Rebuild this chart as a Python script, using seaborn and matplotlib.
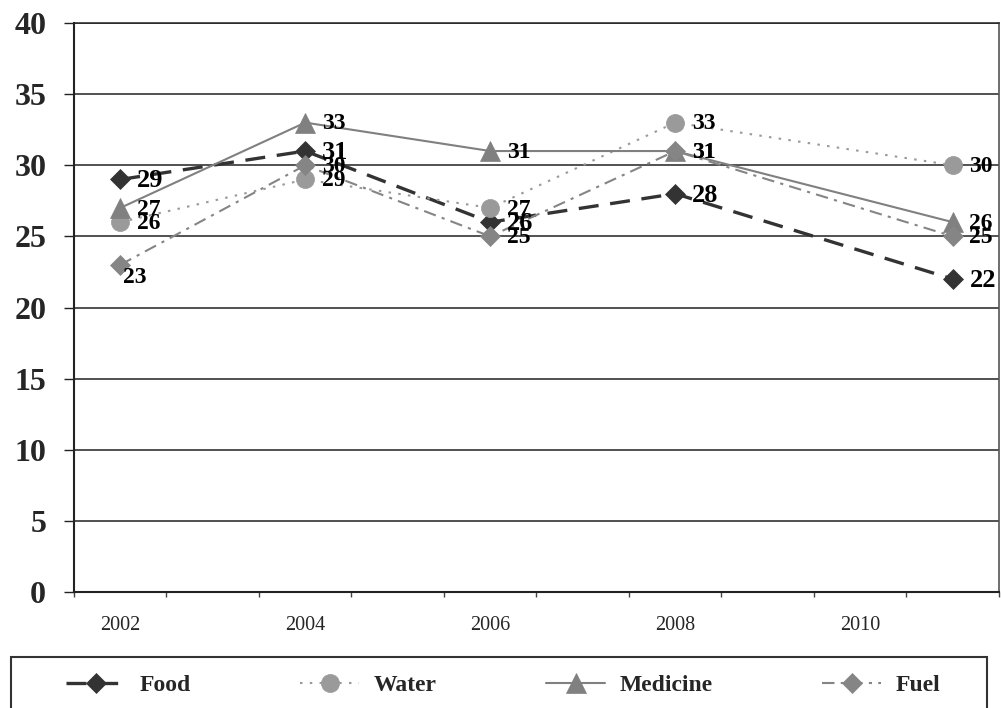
import matplotlib
matplotlib.use("Agg")
import matplotlib.pyplot as plt
import seaborn as sns
from matplotlib.patches import Rectangle
from matplotlib.ticker import MultipleLocator, FixedLocator

# data
years = [2002, 2004, 2006, 2008, 2011]
food = [29, 31, 26, 28, 22]
water = [26, 29, 27, 33, 30]
medicine = [27, 33, 31, 31, 26]
fuel = [23, 30, 25, 31, 25]
year_labels = [2002, 2004, 2006, 2008, 2010]

sns.set_theme(style="white")
plt.rcParams["font.family"] = ["Liberation Serif", "DejaVu Serif"]

fig = plt.figure(figsize=(10.01, 7.08), dpi=100)
ax = fig.add_axes([0.0739, 0.1638, 0.9241, 0.8037])

series = [
    ("Food", food, "#333333", "D", 10, (0, (6, 3.5)), 2.4, 19),
    ("Water", water, "#9a9a9a", "o", 13, (0, (1.2, 3.5)), 1.5, 17),
    ("Medicine", medicine, "#808080", "^", 14, "-", 1.5, 17),
    ("Fuel", fuel, "#858585", "D", 10, (0, (6, 3, 1.5, 3)), 1.5, 17),
]

for name, vals, col, mk, ms, ls, lw, fs in series:
    sns.lineplot(x=years, y=vals, ax=ax, color=col, marker=mk, markersize=ms,
                 markeredgecolor=col, markeredgewidth=0.5, linestyle=ls, lw=lw,
                 label=name, legend=False, zorder=3)
    for i, (x, y) in enumerate(zip(years, vals)):
        dx, dy = 12, -1
        if name == "Fuel" and i == 0:
            dx, dy = 2, -9
        ax.annotate(str(y), (x, y), xytext=(dx, dy), textcoords="offset points",
                    ha="left", va="center", fontsize=fs, fontweight="bold",
                    color="black", annotation_clip=False, zorder=4)

ax.set_xlim(2001.5, 2011.5)
ax.set_ylim(0, 40)
ax.yaxis.set_major_locator(MultipleLocator(5))
ax.xaxis.set_major_locator(FixedLocator(year_labels))
ax.xaxis.set_minor_locator(MultipleLocator(1, offset=0.5))
ax.set_xticklabels([str(y) for y in year_labels])
ax.grid(axis="y", color="#222222", lw=1.1)
ax.set_axisbelow(True)

ax.tick_params(axis="y", direction="out", length=7, width=1, color="#222222",
               pad=13, labelsize=23, left=True)
for lab in ax.get_yticklabels():
    lab.set_fontweight("bold")
ax.tick_params(axis="x", which="major", length=0, pad=17, labelsize=14.5)
ax.tick_params(axis="x", which="minor", direction="out", length=3.5, width=1,
               color="#444444", bottom=True)

for side in ["left", "bottom"]:
    ax.spines[side].set_color("#222222")
    ax.spines[side].set_linewidth(1.5)
ax.spines["right"].set_color("#555555")
ax.spines["right"].set_linewidth(1.2)
ax.spines["top"].set_color("#222222")
ax.spines["top"].set_linewidth(1.1)
ax.set_xlabel("")
ax.set_ylabel("")

# legend box below the plot
fig.patches.append(Rectangle((11 / 1001, -0.05), 976 / 1001, 0.05 + 51 / 708,
                             transform=fig.transFigure, fill=False,
                             edgecolor="#333333", lw=1.5))
leg = ax.legend(loc="center left", bbox_to_anchor=(66 / 1001, 1 - 685 / 708),
                bbox_transform=fig.transFigure, ncol=4, frameon=False,
                borderpad=0, borderaxespad=0, handlelength=2.5,
                handletextpad=0.6, columnspacing=4.65, numpoints=1,
                prop={"family": "Liberation Serif", "weight": "bold", "size": 17})

fig.savefig("out.png", dpi=100)
